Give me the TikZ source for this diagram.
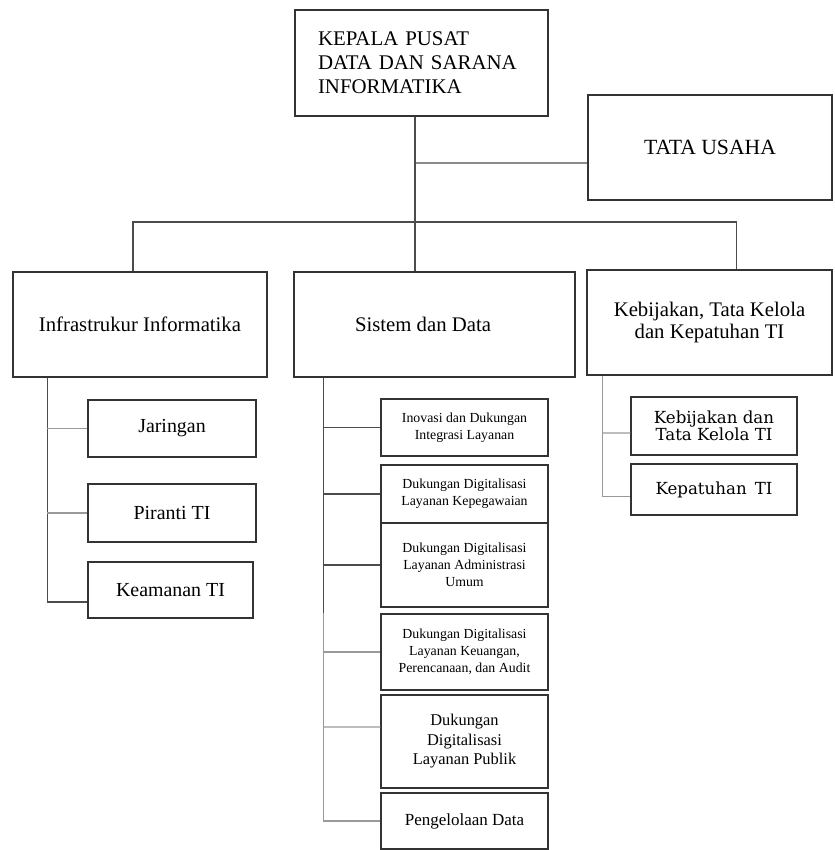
\documentclass[tikz,border=0pt]{standalone}
\usepackage{fontspec}
\setmainfont{Liberation Serif}
\newfontfamily\slabfont{DejaVu Serif}
\usepackage{tikz}
\usetikzlibrary{positioning}

\begin{document}
\begin{tikzpicture}[x=0.03cm,y=-0.03cm,
    unit/.style={draw=black!80,line width=1.1pt,align=center,inner sep=2pt},
    big/.style={font=\fontsize{17.8}{20.4}\selectfont},
    mid/.style={font=\fontsize{17.7}{19.5}\selectfont},
    sub/.style={font=\fontsize{17}{20}\selectfont},
    low/.style={font=\fontsize{14}{16.6}\selectfont},
    small/.style={font=\fontsize{11.8}{14.4}\selectfont},
    slab/.style={font=\slabfont\fontsize{14.2}{13.6}\selectfont},
    link/.style={draw=black!70,line width=0.9pt},
    thin/.style={draw=black!40,line width=0.9pt}]
  \useasboundingbox (0,0) rectangle (834,850);

  % top level
  \node[unit,big,minimum width=7.59cm,minimum height=3.18cm,text width=6.21cm,
        inner xsep=0.69cm,align=left] (kepala) at (421.5,63)
        {KEPALA PUSAT\\DATA DAN SARANA\\INFORMATIKA};
  \node[unit,font=\fontsize{18.5}{22}\selectfont,minimum width=7.32cm,minimum height=3.15cm]
        (tu) at (710,147.5) {TATA USAHA};

  % second level
  \node[unit,mid,minimum width=7.62cm,minimum height=3.15cm] (infra) at (140,324.5) {Infrastrukur Informatika};
  \node[unit,mid,minimum width=8.43cm,minimum height=3.15cm] (sisdat) at (434.5,324.5) {Sistem dan Data\hspace*{0.69cm}};
  \node[unit,mid,minimum width=7.35cm,minimum height=3.15cm] (kebijakan) at (709.5,322.5)
        {Kebijakan, Tata Kelola\\dan Kepatuhan TI};

  % Infrastrukur Informatika
  \node[unit,sub,minimum width=5.04cm,minimum height=1.71cm] (jar) at (172,428.5) {Jaringan};
  \node[unit,sub,minimum width=5.04cm,minimum height=1.74cm] (piranti) at (172,513) {Piranti TI};
  \node[unit,sub,minimum width=4.95cm,minimum height=1.68cm] (keamanan) at (170.5,590) {Keamanan TI};

  % Sistem dan Data
  \node[unit,small,minimum width=5.01cm,minimum height=1.71cm] (inovasi) at (464.5,427.5)
        {Inovasi dan Dukungan\\Integrasi Layanan};
  \node[unit,small,minimum width=5.01cm,minimum height=1.74cm] (kepeg) at (464.5,494)
        {Dukungan Digitalisasi\\Layanan Kepegawaian};
  \node[unit,small,minimum width=5.01cm,minimum height=2.52cm] (admin) at (464.5,565)
        {Dukungan Digitalisasi\\Layanan Administrasi\\Umum};
  \node[unit,small,minimum width=5.01cm,minimum height=2.28cm] (keuangan) at (464.5,652)
        {Dukungan Digitalisasi\\Layanan Keuangan,\\Perencanaan, dan Audit};
  \node[unit,low,minimum width=5.01cm,minimum height=2.79cm] (publik) at (464.5,741.5)
        {Dukungan\\Digitalisasi\\Layanan Publik};
  \node[unit,font=\fontsize{14.5}{17}\selectfont,minimum width=5.01cm,minimum height=1.68cm]
        (pengelolaan) at (464.5,821) {Pengelolaan Data};

  % Kebijakan, Tata Kelola dan Kepatuhan TI
  \node[unit,slab,minimum width=4.98cm,minimum height=1.74cm] (tatakelola) at (714,426)
        {Kebijakan dan\\Tata Kelola TI};
  \node[unit,slab,minimum width=4.98cm,minimum height=1.53cm] (kepatuhan) at (714,489.5)
        {Kepatuhan\, TI};

  % connectors
  \coordinate (bus) at (415,222);
  \draw[link] (bus |- kepala.south) -- (bus |- sisdat.north);
  \draw[link] (bus |- tu.west) ++(0,15.5) -- ([yshift=-0.465cm]tu.west);
  \draw[link] ([xshift=-0.21cm]infra.north) |- (bus) -| ([xshift=0.81cm]kebijakan.north);

  \draw[link] ([xshift=1.05cm]infra.south west) coordinate (ls) |- ([yshift=-0.36cm]keamanan.west);
  \draw[thin] (ls |- jar.west) -- (jar.west);
  \draw[thin,line width=1.4pt] (ls |- piranti.west) -- (piranti.west);

  \draw[link] ([xshift=0.9cm]sisdat.south west) coordinate (ms) -- (ms |- keuangan.north);
  \draw[thin,line width=1.2pt] (ms |- keuangan.north) |- (pengelolaan.west);
  \foreach \n in {inovasi,kepeg,admin}
    \draw[link] (ms |- \n.west) -- (\n.west);
  \draw[thin,line width=1.2pt] (ms |- keuangan.west) -- (keuangan.west);
  \draw[thin,line width=1.2pt] (ms |- publik.west) ++(0,-14.5) -- ([yshift=0.435cm]publik.west);

  \draw[thin] ([xshift=0.48cm]kebijakan.south west) coordinate (rs) |- ([yshift=-0.2cm]kepatuhan.west);
  \draw[thin] (rs |- tatakelola.west) ++(0,7) -- ([yshift=-0.21cm]tatakelola.west);
\end{tikzpicture}
\end{document}
